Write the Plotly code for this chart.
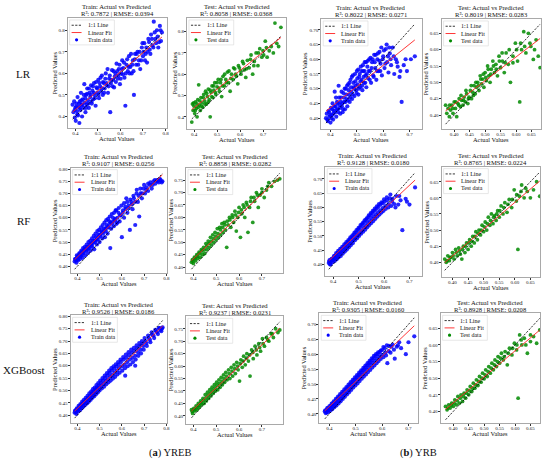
import numpy as np
import plotly.graph_objects as go

# ---------------- data (actual, predicted) ----------------
yreb_lr_train = [(0.388,0.455),(0.392,0.420),(0.395,0.470),(0.398,0.395),(0.400,0.440),(0.402,0.380),(0.405,0.460),(0.408,0.425),(0.410,0.490),(0.412,0.405),
(0.415,0.445),(0.418,0.370),(0.420,0.470),(0.423,0.430),(0.425,0.510),(0.428,0.455),(0.430,0.400),(0.433,0.480),(0.436,0.440),(0.440,0.550),
(0.442,0.465),(0.445,0.420),(0.448,0.500),(0.450,0.455),(0.453,0.530),(0.456,0.475),(0.460,0.440),(0.463,0.510),(0.466,0.490),(0.470,0.545),
(0.473,0.460),(0.476,0.520),(0.480,0.480),(0.483,0.555),(0.486,0.500),(0.490,0.450),(0.494,0.535),(0.498,0.510),(0.502,0.570),(0.505,0.485),
(0.510,0.540),(0.514,0.515),(0.518,0.590),(0.522,0.500),(0.526,0.555),(0.530,0.530),(0.535,0.600),(0.540,0.545),(0.545,0.510),(0.550,0.575),
(0.555,0.420),(0.558,0.555),(0.563,0.615),(0.568,0.570),(0.572,0.535),(0.578,0.600),(0.583,0.645),(0.588,0.575),(0.593,0.620),(0.598,0.550),
(0.603,0.600),(0.608,0.660),(0.613,0.625),(0.618,0.580),(0.622,0.450),(0.627,0.640),(0.633,0.610),(0.638,0.680),(0.644,0.630),(0.650,0.600),
(0.655,0.660),(0.660,0.500),(0.665,0.690),(0.670,0.640),(0.676,0.700),(0.682,0.660),(0.688,0.620),(0.695,0.720),(0.700,0.680),(0.706,0.740),
(0.712,0.690),(0.718,0.650),(0.724,0.760),(0.730,0.710),(0.736,0.780),(0.742,0.730),(0.748,0.840),(0.755,0.760),(0.762,0.800),(0.768,0.720),
(0.775,0.820),(0.780,0.750),(0.784,0.790),
(0.397,0.430),(0.404,0.445),(0.409,0.410),(0.417,0.460),(0.421,0.440),(0.427,0.475),(0.432,0.455),(0.438,0.500),(0.444,0.485),(0.447,0.440),
(0.452,0.505),(0.458,0.460),(0.461,0.530),(0.468,0.500),(0.472,0.470),(0.478,0.540),(0.482,0.510),(0.487,0.485),(0.492,0.560),(0.497,0.530),
(0.503,0.500),(0.508,0.555),(0.512,0.580),(0.517,0.530),(0.523,0.560),(0.528,0.510),(0.533,0.575),(0.538,0.555),(0.543,0.620),(0.548,0.540),
(0.553,0.590),(0.560,0.570),(0.565,0.540),(0.570,0.610),(0.575,0.585),(0.580,0.560),(0.586,0.610),(0.591,0.590),(0.596,0.640),(0.601,0.575),
(0.606,0.620),(0.611,0.595),(0.616,0.650),(0.624,0.600),(0.630,0.665),(0.636,0.630),(0.641,0.600),(0.647,0.690),(0.653,0.640),(0.658,0.610),
(0.664,0.665),(0.672,0.690),(0.679,0.640),(0.685,0.700),(0.692,0.660),(0.698,0.740),(0.703,0.700),(0.709,0.660),(0.715,0.720),(0.721,0.700),
(0.727,0.745),(0.733,0.690),(0.740,0.760),(0.746,0.720),(0.752,0.790),(0.758,0.740),(0.765,0.770),(0.772,0.745),(0.778,0.800)]

yreb_lr_test = [(0.390,0.375),(0.393,0.460),(0.396,0.430),(0.400,0.450),(0.403,0.415),(0.406,0.470),(0.410,0.440),(0.413,0.400),(0.416,0.480),(0.420,0.550),
(0.423,0.455),(0.427,0.430),(0.430,0.490),(0.434,0.465),(0.438,0.445),(0.442,0.505),(0.446,0.475),(0.450,0.520),(0.454,0.460),(0.458,0.495),
(0.462,0.530),(0.466,0.480),(0.470,0.400),(0.474,0.515),(0.478,0.545),(0.482,0.490),(0.486,0.525),(0.490,0.560),(0.495,0.505),(0.500,0.540),
(0.505,0.575),(0.510,0.520),(0.515,0.560),(0.520,0.495),(0.526,0.590),(0.532,0.545),(0.538,0.575),(0.545,0.610),(0.550,0.560),(0.557,0.520),
(0.563,0.600),(0.570,0.575),(0.577,0.625),(0.584,0.590),(0.590,0.555),(0.597,0.630),(0.604,0.600),(0.611,0.660),(0.618,0.620),(0.625,0.585),
(0.632,0.665),(0.640,0.630),(0.648,0.690),(0.655,0.600),(0.662,0.660),(0.670,0.700),(0.678,0.640),(0.686,0.720),(0.695,0.680),(0.703,0.690),
(0.710,0.755),(0.718,0.680),(0.727,0.710),(0.736,0.730),(0.745,0.700),(0.752,0.840),(0.760,0.745),(0.768,0.730),(0.778,0.820),
(0.398,0.465),(0.405,0.430),(0.412,0.460),(0.418,0.445),(0.425,0.475),(0.432,0.450),(0.440,0.490),(0.447,0.460),(0.455,0.510),(0.462,0.470),
(0.470,0.525),(0.477,0.495),(0.485,0.545),(0.492,0.515),(0.500,0.560),(0.508,0.535),(0.517,0.575),(0.524,0.545),(0.533,0.600),(0.541,0.560),
(0.552,0.615),(0.560,0.580),(0.572,0.630),(0.581,0.600),(0.593,0.640),(0.602,0.615),(0.615,0.650),(0.628,0.625),(0.645,0.670),(0.660,0.640),
(0.680,0.700),(0.700,0.710),(0.715,0.725)]

yrb_lr_train = [(0.383,0.400),(0.386,0.415),(0.390,0.390),(0.393,0.425),(0.396,0.405),(0.400,0.385),(0.402,0.435),(0.405,0.410),(0.408,0.450),(0.410,0.395),
(0.413,0.425),(0.416,0.490),(0.419,0.440),(0.422,0.405),(0.425,0.455),(0.428,0.430),(0.431,0.510),(0.434,0.445),(0.437,0.415),(0.440,0.470),
(0.443,0.440),(0.446,0.420),(0.449,0.485),(0.452,0.455),(0.455,0.430),(0.458,0.500),(0.461,0.465),(0.464,0.440),(0.467,0.515),(0.470,0.480),
(0.473,0.455),(0.476,0.530),(0.479,0.490),(0.482,0.465),(0.485,0.545),(0.488,0.505),(0.491,0.475),(0.494,0.525),(0.497,0.495),(0.500,0.560),
(0.503,0.515),(0.506,0.480),(0.509,0.540),(0.512,0.505),(0.515,0.575),(0.518,0.530),(0.521,0.495),(0.524,0.560),(0.527,0.520),(0.530,0.590),
(0.533,0.545),(0.536,0.505),(0.540,0.575),(0.543,0.535),(0.547,0.600),(0.550,0.560),(0.554,0.520),(0.558,0.590),(0.562,0.545),(0.566,0.615),
(0.570,0.570),(0.574,0.530),(0.578,0.600),(0.582,0.560),(0.586,0.625),(0.590,0.585),(0.595,0.545),(0.600,0.610),(0.605,0.570),(0.610,0.635),
(0.615,0.590),(0.620,0.555),(0.625,0.620),(0.630,0.580),(0.636,0.640),(0.642,0.550),(0.648,0.600),(0.655,0.575),(0.662,0.540),(0.670,0.455),
(0.678,0.580),(0.690,0.560),(0.705,0.600),(0.720,0.610),
(0.388,0.395),(0.395,0.420),(0.399,0.410),(0.404,0.400),(0.407,0.430),(0.411,0.415),(0.415,0.440),(0.418,0.420),(0.421,0.470),(0.424,0.430),
(0.427,0.450),(0.430,0.420),(0.433,0.470),(0.436,0.435),(0.439,0.455),(0.442,0.490),(0.445,0.450),(0.448,0.430),(0.451,0.470),(0.454,0.500),
(0.457,0.455),(0.460,0.480),(0.463,0.510),(0.466,0.460),(0.469,0.495),(0.472,0.520),(0.475,0.470),(0.478,0.505),(0.481,0.540),(0.484,0.480),
(0.487,0.520),(0.490,0.500),(0.493,0.550),(0.496,0.510),(0.499,0.485),(0.502,0.535),(0.505,0.565),(0.508,0.500),(0.511,0.550),(0.514,0.525),
(0.517,0.560),(0.520,0.510),(0.523,0.580),(0.526,0.540),(0.529,0.560),(0.532,0.520),(0.535,0.590),(0.538,0.550),(0.542,0.595),(0.545,0.560),
(0.549,0.530),(0.552,0.605),(0.556,0.570),(0.560,0.600),(0.564,0.540),(0.568,0.590),(0.572,0.615),(0.576,0.560),(0.580,0.620),(0.585,0.595),
(0.589,0.560),(0.593,0.640),(0.598,0.600),(0.603,0.630),(0.608,0.585),(0.613,0.650),(0.618,0.610),(0.623,0.640),(0.628,0.600),(0.640,0.610),
(0.652,0.590),(0.665,0.560),(0.685,0.600)]

yrb_lr_test = [(0.372,0.430),(0.376,0.405),(0.380,0.420),(0.384,0.395),(0.388,0.415),(0.392,0.430),(0.396,0.405),(0.400,0.440),(0.404,0.420),(0.408,0.395),
(0.412,0.435),(0.416,0.450),(0.420,0.425),(0.424,0.445),(0.428,0.430),(0.432,0.455),(0.436,0.440),(0.440,0.465),(0.444,0.435),(0.448,0.455),
(0.452,0.475),(0.456,0.450),(0.460,0.470),(0.464,0.490),(0.468,0.465),(0.472,0.485),(0.476,0.500),(0.480,0.475),(0.484,0.520),(0.488,0.495),
(0.492,0.510),(0.496,0.485),(0.500,0.530),(0.504,0.505),(0.508,0.550),(0.512,0.520),(0.516,0.500),(0.520,0.540),(0.525,0.565),(0.530,0.530),
(0.535,0.555),(0.540,0.520),(0.545,0.580),(0.550,0.545),(0.556,0.565),(0.562,0.530),(0.568,0.590),(0.575,0.555),(0.582,0.500),(0.590,0.580),
(0.598,0.620),(0.605,0.565),(0.612,0.440),(0.618,0.600),(0.625,0.655),(0.632,0.590),(0.640,0.650),(0.648,0.610),(0.656,0.570),(0.665,0.630),
(0.672,0.580),(0.678,0.545),
(0.385,0.430),(0.395,0.420),(0.405,0.440),(0.415,0.430),(0.422,0.460),(0.430,0.445),(0.438,0.475),(0.446,0.450),(0.455,0.490),(0.462,0.460),
(0.470,0.500),(0.478,0.490),(0.486,0.510),(0.494,0.525),(0.502,0.515),(0.510,0.540),(0.518,0.525),(0.527,0.550),(0.536,0.540),(0.546,0.565),
(0.555,0.590),(0.565,0.560),(0.578,0.600),(0.590,0.560),(0.602,0.600),(0.615,0.620),(0.628,0.610),(0.645,0.620),(0.660,0.600)]

yreb_rf_train = [(0.388,0.420),(0.392,0.430),(0.396,0.415),(0.400,0.440),(0.404,0.425),(0.408,0.450),(0.412,0.430),(0.416,0.445),(0.420,0.460),(0.424,0.435),
(0.428,0.455),(0.432,0.470),(0.436,0.445),(0.440,0.465),(0.444,0.480),(0.448,0.455),(0.452,0.475),(0.456,0.490),(0.460,0.465),(0.464,0.495),
(0.468,0.480),(0.472,0.505),(0.476,0.470),(0.480,0.500),(0.484,0.520),(0.488,0.490),(0.492,0.510),(0.496,0.530),(0.500,0.500),(0.504,0.525),
(0.508,0.545),(0.512,0.515),(0.516,0.535),(0.520,0.555),(0.524,0.520),(0.528,0.545),(0.532,0.570),(0.536,0.535),(0.540,0.560),(0.544,0.585),
(0.548,0.475),(0.552,0.555),(0.556,0.575),(0.560,0.600),(0.564,0.565),(0.568,0.590),(0.572,0.630),(0.576,0.575),(0.580,0.600),(0.585,0.620),
(0.590,0.585),(0.595,0.610),(0.600,0.520),(0.605,0.630),(0.610,0.600),(0.615,0.645),(0.620,0.680),(0.625,0.620),(0.630,0.650),(0.636,0.550),
(0.642,0.665),(0.648,0.635),(0.654,0.680),(0.660,0.570),(0.666,0.700),(0.672,0.665),(0.678,0.605),(0.684,0.700),(0.690,0.680),(0.697,0.720),
(0.704,0.700),(0.711,0.725),(0.718,0.710),(0.726,0.735),(0.734,0.720),(0.742,0.750),(0.750,0.740),(0.758,0.755),(0.766,0.745),(0.774,0.755),
(0.782,0.750),
(0.390,0.430),(0.394,0.425),(0.398,0.445),(0.402,0.430),(0.406,0.440),(0.410,0.455),(0.414,0.440),(0.418,0.465),(0.422,0.450),(0.426,0.475),
(0.430,0.460),(0.434,0.480),(0.438,0.470),(0.442,0.490),(0.446,0.470),(0.450,0.500),(0.454,0.480),(0.458,0.505),(0.462,0.485),(0.466,0.515),
(0.470,0.495),(0.474,0.525),(0.478,0.505),(0.482,0.535),(0.486,0.510),(0.490,0.545),(0.494,0.520),(0.498,0.550),(0.502,0.530),(0.506,0.560),
(0.510,0.540),(0.514,0.570),(0.518,0.545),(0.522,0.580),(0.526,0.555),(0.530,0.590),(0.534,0.560),(0.538,0.595),(0.542,0.570),(0.546,0.605),
(0.550,0.580),(0.555,0.615),(0.560,0.585),(0.565,0.620),(0.570,0.595),(0.575,0.630),(0.580,0.580),(0.586,0.640),(0.592,0.610),(0.598,0.650),
(0.604,0.620),(0.610,0.660),(0.617,0.635),(0.624,0.665),(0.631,0.640),(0.638,0.675),(0.645,0.655),(0.652,0.690),(0.659,0.665),(0.667,0.715),
(0.675,0.690),(0.683,0.720),(0.691,0.700),(0.700,0.735),(0.709,0.715),(0.718,0.740),(0.728,0.745),(0.738,0.735),(0.748,0.755),(0.760,0.750),
(0.770,0.760),(0.779,0.745)]

yreb_rf_test = [(0.392,0.420),(0.396,0.430),(0.400,0.415),(0.405,0.440),(0.410,0.425),(0.415,0.450),(0.420,0.435),(0.425,0.460),(0.430,0.440),(0.435,0.470),
(0.440,0.450),(0.445,0.480),(0.450,0.455),(0.455,0.495),(0.460,0.470),(0.465,0.505),(0.470,0.480),(0.475,0.520),(0.480,0.490),(0.485,0.530),
(0.490,0.500),(0.495,0.540),(0.500,0.510),(0.505,0.555),(0.510,0.520),(0.515,0.560),(0.520,0.530),(0.525,0.575),(0.530,0.540),(0.535,0.580),
(0.540,0.550),(0.546,0.480),(0.552,0.570),(0.558,0.600),(0.564,0.560),(0.570,0.610),(0.576,0.580),(0.582,0.625),(0.588,0.545),(0.594,0.600),
(0.600,0.640),(0.606,0.520),(0.612,0.615),(0.618,0.650),(0.625,0.600),(0.632,0.660),(0.639,0.540),(0.646,0.640),(0.653,0.680),(0.660,0.580),
(0.668,0.665),(0.676,0.700),(0.684,0.640),(0.692,0.690),(0.700,0.715),(0.710,0.680),(0.720,0.710),(0.730,0.740),(0.742,0.725),(0.755,0.745),
(0.768,0.750),(0.778,0.755),
(0.398,0.425),(0.408,0.435),(0.418,0.445),(0.428,0.455),(0.438,0.465),(0.448,0.470),(0.458,0.485),(0.468,0.495),(0.478,0.505),(0.488,0.515),
(0.498,0.525),(0.508,0.535),(0.518,0.550),(0.528,0.560),(0.538,0.570),(0.548,0.585),(0.560,0.590),(0.572,0.600),(0.585,0.610),(0.598,0.620),
(0.610,0.630),(0.622,0.640),(0.635,0.650),(0.650,0.665),(0.665,0.680),(0.680,0.690),(0.700,0.700),(0.725,0.725)]

yrb_rf_train = [(0.383,0.405),(0.386,0.415),(0.390,0.400),(0.394,0.420),(0.398,0.408),(0.402,0.425),(0.406,0.412),(0.410,0.432),(0.414,0.418),(0.418,0.440),
(0.422,0.425),(0.426,0.445),(0.430,0.430),(0.434,0.455),(0.438,0.438),(0.442,0.462),(0.446,0.445),(0.450,0.470),(0.454,0.452),(0.458,0.478),
(0.462,0.460),(0.466,0.488),(0.470,0.468),(0.474,0.495),(0.478,0.475),(0.482,0.505),(0.486,0.485),(0.490,0.512),(0.494,0.492),(0.498,0.522),
(0.502,0.500),(0.506,0.530),(0.510,0.508),(0.514,0.540),(0.518,0.515),(0.522,0.548),(0.526,0.522),(0.530,0.556),(0.534,0.530),(0.538,0.565),
(0.542,0.538),(0.546,0.572),(0.550,0.545),(0.554,0.580),(0.558,0.552),(0.562,0.588),(0.566,0.560),(0.570,0.595),(0.574,0.568),(0.578,0.602),
(0.582,0.575),(0.586,0.610),(0.590,0.582),(0.594,0.615),(0.598,0.588),(0.602,0.620),(0.607,0.595),(0.612,0.625),(0.617,0.600),(0.622,0.632),
(0.628,0.605),(0.634,0.630),(0.640,0.612),(0.648,0.640),(0.656,0.610),(0.665,0.625),(0.672,0.520),(0.685,0.630),(0.700,0.610),(0.722,0.670),
(0.385,0.410),(0.388,0.400),(0.392,0.412),(0.396,0.418),(0.400,0.415),(0.404,0.430),(0.408,0.420),(0.412,0.440),(0.416,0.428),(0.420,0.448),
(0.424,0.435),(0.428,0.455),(0.432,0.442),(0.436,0.462),(0.440,0.450),(0.444,0.470),(0.448,0.458),(0.452,0.478),(0.456,0.465),(0.460,0.485),
(0.464,0.472),(0.468,0.495),(0.472,0.480),(0.476,0.502),(0.480,0.488),(0.484,0.512),(0.488,0.495),(0.492,0.520),(0.496,0.502),(0.500,0.528),
(0.504,0.510),(0.508,0.538),(0.512,0.518),(0.516,0.545),(0.520,0.528),(0.524,0.555),(0.528,0.535),(0.532,0.562),(0.536,0.545),(0.540,0.572),
(0.544,0.552),(0.548,0.580),(0.552,0.560),(0.556,0.588),(0.560,0.568),(0.564,0.596),(0.568,0.575),(0.572,0.604),(0.576,0.582),(0.580,0.612),
(0.585,0.590),(0.590,0.618),(0.595,0.598),(0.600,0.628),(0.605,0.605),(0.611,0.635),(0.618,0.612),(0.625,0.645),(0.632,0.620),(0.645,0.600),
(0.660,0.640),(0.690,0.620)]

yrb_rf_test = [(0.375,0.410),(0.380,0.400),(0.385,0.420),(0.390,0.405),(0.395,0.415),(0.400,0.430),(0.405,0.410),(0.410,0.440),(0.415,0.420),(0.420,0.445),
(0.425,0.425),(0.430,0.410),(0.435,0.450),(0.440,0.430),(0.445,0.460),(0.450,0.440),(0.455,0.470),(0.460,0.450),(0.465,0.480),(0.470,0.460),
(0.475,0.495),(0.480,0.470),(0.485,0.500),(0.490,0.485),(0.495,0.515),(0.500,0.495),(0.505,0.525),(0.510,0.500),(0.515,0.540),(0.520,0.515),
(0.525,0.550),(0.530,0.520),(0.535,0.545),(0.540,0.530),(0.545,0.560),(0.550,0.540),(0.556,0.575),(0.562,0.550),(0.568,0.585),(0.575,0.555),
(0.582,0.595),(0.590,0.570),(0.598,0.625),(0.605,0.590),(0.610,0.440),(0.615,0.605),(0.622,0.640),(0.630,0.600),(0.640,0.620),(0.650,0.600),
(0.660,0.625),(0.670,0.650),(0.680,0.605),
(0.383,0.405),(0.392,0.415),(0.402,0.420),(0.412,0.430),(0.422,0.435),(0.432,0.440),(0.442,0.450),(0.452,0.460),(0.462,0.465),(0.472,0.480),
(0.482,0.490),(0.492,0.500),(0.502,0.510),(0.512,0.520),(0.522,0.530),(0.532,0.540),(0.542,0.550),(0.552,0.560),(0.565,0.570),(0.578,0.580),
(0.592,0.595),(0.606,0.610),(0.620,0.620),(0.635,0.630)]

yreb_xgb_train = [(0.388,0.410),(0.392,0.420),(0.396,0.405),(0.400,0.425),(0.404,0.415),(0.408,0.432),(0.412,0.420),(0.416,0.440),(0.420,0.428),(0.424,0.448),
(0.428,0.435),(0.432,0.455),(0.436,0.442),(0.440,0.462),(0.444,0.448),(0.448,0.470),(0.452,0.455),(0.456,0.478),(0.460,0.462),(0.464,0.487),
(0.468,0.470),(0.472,0.495),(0.476,0.477),(0.480,0.503),(0.484,0.485),(0.488,0.512),(0.492,0.492),(0.496,0.520),(0.500,0.500),(0.505,0.530),
(0.510,0.508),(0.515,0.540),(0.520,0.515),(0.525,0.550),(0.530,0.525),(0.535,0.560),(0.540,0.533),(0.545,0.570),(0.550,0.540),(0.555,0.580),
(0.560,0.548),(0.565,0.588),(0.570,0.555),(0.575,0.597),(0.580,0.565),(0.585,0.605),(0.590,0.572),(0.596,0.615),(0.602,0.580),(0.608,0.625),
(0.614,0.590),(0.615,0.560),(0.620,0.632),(0.626,0.598),(0.632,0.642),(0.638,0.605),(0.644,0.652),(0.650,0.615),(0.656,0.660),(0.660,0.600),
(0.662,0.625),(0.668,0.670),(0.674,0.640),(0.680,0.680),(0.686,0.650),(0.692,0.690),(0.698,0.665),(0.705,0.700),(0.712,0.680),(0.720,0.712),
(0.728,0.695),(0.736,0.725),(0.745,0.712),(0.754,0.740),(0.762,0.728),(0.770,0.752),(0.777,0.740),(0.783,0.755),
(0.390,0.418),(0.394,0.412),(0.398,0.428),(0.402,0.420),(0.406,0.438),(0.410,0.428),(0.414,0.445),(0.418,0.435),(0.422,0.455),(0.426,0.442),
(0.430,0.462),(0.434,0.450),(0.438,0.470),(0.442,0.455),(0.446,0.478),(0.450,0.465),(0.454,0.488),(0.458,0.470),(0.462,0.495),(0.466,0.480),
(0.470,0.505),(0.474,0.488),(0.478,0.512),(0.482,0.495),(0.486,0.522),(0.490,0.505),(0.494,0.530),(0.498,0.512),(0.503,0.540),(0.508,0.520),
(0.513,0.550),(0.518,0.528),(0.523,0.560),(0.528,0.538),(0.533,0.570),(0.538,0.545),(0.543,0.580),(0.548,0.555),(0.553,0.590),(0.558,0.562),
(0.563,0.598),(0.568,0.572),(0.573,0.606),(0.578,0.580),(0.583,0.615),(0.588,0.590),(0.594,0.625),(0.600,0.598),(0.606,0.635),(0.612,0.605),
(0.618,0.645),(0.624,0.615),(0.630,0.655),(0.636,0.625),(0.642,0.665),(0.648,0.632),(0.654,0.672),(0.660,0.640),(0.666,0.682),(0.672,0.655),
(0.678,0.692),(0.684,0.665),(0.690,0.700),(0.696,0.680),(0.702,0.712),(0.710,0.692),(0.718,0.722),(0.726,0.705),(0.734,0.735),(0.742,0.722),
(0.750,0.745),(0.758,0.735),(0.766,0.752),(0.774,0.745),(0.780,0.750)]

yreb_xgb_test = [(0.392,0.425),(0.397,0.410),(0.402,0.430),(0.407,0.420),(0.412,0.440),(0.417,0.425),(0.422,0.450),(0.427,0.435),(0.432,0.460),(0.437,0.445),
(0.442,0.470),(0.447,0.450),(0.452,0.485),(0.457,0.460),(0.462,0.495),(0.467,0.470),(0.472,0.505),(0.477,0.480),(0.482,0.515),(0.487,0.490),
(0.492,0.525),(0.497,0.500),(0.502,0.535),(0.507,0.505),(0.512,0.545),(0.517,0.515),(0.522,0.555),(0.527,0.525),(0.532,0.565),(0.537,0.535),
(0.542,0.575),(0.548,0.545),(0.554,0.585),(0.560,0.550),(0.566,0.595),(0.572,0.560),(0.578,0.605),(0.584,0.570),(0.590,0.615),(0.596,0.585),
(0.602,0.540),(0.608,0.625),(0.614,0.595),(0.620,0.640),(0.627,0.605),(0.634,0.650),(0.641,0.620),(0.648,0.560),(0.655,0.665),(0.662,0.630),
(0.670,0.680),(0.678,0.645),(0.686,0.690),(0.694,0.660),(0.702,0.710),(0.711,0.680),(0.720,0.715),(0.730,0.700),(0.740,0.730),(0.750,0.715),
(0.760,0.750),(0.770,0.735),(0.778,0.745),
(0.395,0.418),(0.405,0.425),(0.415,0.433),(0.425,0.442),(0.435,0.452),(0.445,0.462),(0.455,0.472),(0.465,0.482),(0.475,0.492),(0.485,0.502),
(0.495,0.512),(0.505,0.522),(0.515,0.530),(0.525,0.540),(0.535,0.550),(0.545,0.560),(0.557,0.570),(0.569,0.580),(0.581,0.590),(0.593,0.600),
(0.605,0.610),(0.618,0.620),(0.632,0.632),(0.646,0.645),(0.660,0.655),(0.675,0.665),(0.690,0.675),(0.705,0.690),(0.725,0.705),(0.745,0.730)]

yrb_xgb_train = [(0.383,0.408),(0.387,0.402),(0.391,0.415),(0.395,0.405),(0.399,0.420),(0.403,0.410),(0.407,0.428),(0.411,0.415),(0.415,0.435),(0.419,0.422),
(0.423,0.442),(0.427,0.428),(0.431,0.450),(0.435,0.435),(0.439,0.458),(0.443,0.442),(0.447,0.466),(0.451,0.450),(0.455,0.474),(0.459,0.457),
(0.463,0.482),(0.467,0.465),(0.471,0.490),(0.475,0.472),(0.479,0.498),(0.483,0.480),(0.487,0.506),(0.491,0.488),(0.495,0.514),(0.499,0.495),
(0.503,0.522),(0.507,0.502),(0.511,0.530),(0.515,0.510),(0.519,0.538),(0.523,0.518),(0.527,0.546),(0.531,0.525),(0.535,0.554),(0.539,0.532),
(0.543,0.562),(0.547,0.540),(0.551,0.570),(0.555,0.547),(0.559,0.578),(0.563,0.555),(0.567,0.586),(0.571,0.562),(0.575,0.594),(0.579,0.570),
(0.583,0.600),(0.587,0.577),(0.591,0.607),(0.595,0.584),(0.600,0.614),(0.605,0.590),(0.610,0.620),(0.615,0.596),(0.620,0.570),(0.626,0.628),
(0.632,0.605),(0.640,0.632),(0.648,0.585),(0.656,0.625),(0.665,0.640),(0.672,0.620),(0.690,0.600),(0.722,0.660),
(0.385,0.412),(0.389,0.406),(0.393,0.420),(0.397,0.412),(0.401,0.426),(0.405,0.418),(0.409,0.434),(0.413,0.424),(0.417,0.442),(0.421,0.430),
(0.425,0.450),(0.429,0.438),(0.433,0.458),(0.437,0.445),(0.441,0.466),(0.445,0.452),(0.449,0.474),(0.453,0.460),(0.457,0.482),(0.461,0.468),
(0.465,0.490),(0.469,0.476),(0.473,0.498),(0.477,0.484),(0.481,0.506),(0.485,0.492),(0.489,0.514),(0.493,0.500),(0.497,0.522),(0.501,0.508),
(0.505,0.530),(0.509,0.516),(0.513,0.538),(0.517,0.524),(0.521,0.546),(0.525,0.532),(0.529,0.554),(0.533,0.540),(0.537,0.562),(0.541,0.548),
(0.545,0.570),(0.549,0.556),(0.553,0.578),(0.557,0.564),(0.561,0.586),(0.565,0.571),(0.569,0.594),(0.573,0.578),(0.577,0.600),(0.581,0.585),
(0.585,0.606),(0.590,0.592),(0.595,0.612),(0.600,0.598),(0.605,0.624),(0.612,0.605),(0.618,0.630),(0.625,0.610),(0.635,0.625),(0.645,0.615),
(0.660,0.630),(0.700,0.640)]

yrb_xgb_test = [(0.375,0.415),(0.380,0.405),(0.385,0.420),(0.390,0.410),(0.395,0.425),(0.400,0.415),(0.405,0.435),(0.410,0.420),(0.415,0.445),(0.420,0.425),
(0.425,0.450),(0.430,0.430),(0.435,0.455),(0.440,0.440),(0.445,0.465),(0.450,0.450),(0.455,0.475),(0.460,0.460),(0.465,0.485),(0.470,0.470),
(0.475,0.495),(0.480,0.478),(0.485,0.505),(0.490,0.488),(0.495,0.515),(0.500,0.498),(0.505,0.525),(0.510,0.505),(0.515,0.535),(0.520,0.515),
(0.525,0.545),(0.530,0.525),(0.535,0.555),(0.540,0.535),(0.545,0.565),(0.550,0.545),(0.556,0.575),(0.562,0.555),(0.568,0.580),(0.575,0.540),
(0.582,0.590),(0.590,0.570),(0.598,0.605),(0.605,0.585),(0.610,0.440),(0.615,0.630),(0.622,0.600),(0.630,0.620),(0.640,0.575),(0.650,0.610),
(0.660,0.625),(0.670,0.605),(0.680,0.645),
(0.383,0.410),(0.393,0.418),(0.403,0.425),(0.413,0.432),(0.423,0.440),(0.433,0.445),(0.443,0.455),(0.453,0.462),(0.463,0.470),(0.473,0.480),
(0.483,0.490),(0.493,0.500),(0.503,0.510),(0.513,0.520),(0.523,0.530),(0.533,0.540),(0.543,0.550),(0.553,0.560),(0.565,0.565),(0.578,0.575),
(0.592,0.590),(0.606,0.600),(0.620,0.615),(0.635,0.600),(0.650,0.630)]

model_labels = ["LR", "RF", "XGBoost"]
group_labels = ["(<b>a</b>) YREB", "(<b>b</b>) YRB"]
r2_values = ["0.7872", "0.8058", "0.8022", "0.8019",
             "0.9107", "0.8858", "0.9128", "0.8765",
             "0.9526", "0.9237", "0.9305", "0.8928"]
rmse_values = ["0.0394", "0.0368", "0.0271", "0.0283",
               "0.0256", "0.0282", "0.0180", "0.0224",
               "0.0186", "0.0231", "0.0160", "0.0208"]
x_ticks_yreb_train = [0.4, 0.5, 0.6, 0.7, 0.8]
x_ticks_yreb_test = [0.4, 0.5, 0.6, 0.7]
y_ticks_yreb_lr = [0.4, 0.5, 0.6, 0.7, 0.8]
y_ticks_yreb_train = [0.40, 0.45, 0.50, 0.55, 0.60, 0.65, 0.70, 0.75, 0.80]
y_ticks_yreb_test = [0.40, 0.45, 0.50, 0.55, 0.60, 0.65, 0.70, 0.75]
x_ticks_yrb_train = [0.4, 0.5, 0.6, 0.7]
y_ticks_yrb_train = [0.40, 0.45, 0.50, 0.55, 0.60, 0.65, 0.70]
ticks_yrb_test = [0.40, 0.45, 0.50, 0.55, 0.60, 0.65]

# ---------------- layout of panels (pixel boxes) ----------------
W, H = 550, 462
FONT = "Liberation Serif"
BLUE, GREEN = "#0000ff", "#008a00"

def px(x):
    return x / W

def py(y):
    return 1 - y / H

panels = [
    dict(d=yreb_lr_train, box=(68, 168, 17, 127), xr=(0.366, 0.807), yr=(0.348, 0.857), xt=x_ticks_yreb_train, xf=".1f", yt=y_ticks_yreb_lr, yf=".1f", train=True),
    dict(d=yreb_lr_test, box=(188, 288, 17, 128), xr=(0.369, 0.802), yr=(0.344, 0.864), xt=x_ticks_yreb_test, xf=".1f", yt=y_ticks_yreb_lr, yf=".1f", train=False),
    dict(d=yrb_lr_train, box=(323, 424, 18, 128), xr=(0.365, 0.746), yr=(0.364, 0.737), xt=x_ticks_yrb_train, xf=".1f", yt=y_ticks_yrb_train, yf=".2f", train=True),
    dict(d=yrb_lr_test, box=(444, 544, 18, 128), xr=(0.359, 0.681), yr=(0.358, 0.694), xt=ticks_yrb_test, xf=".2f", yt=ticks_yrb_test, yf=".2f", train=False),
    dict(d=yreb_rf_train, box=(71, 168, 167, 273), xr=(0.370, 0.803), yr=(0.371, 0.806), xt=x_ticks_yreb_train, xf=".1f", yt=y_ticks_yreb_train, yf=".2f", train=True),
    dict(d=yreb_rf_test, box=(187, 285, 167, 273), xr=(0.368, 0.794), yr=(0.375, 0.800), xt=x_ticks_yreb_test, xf=".1f", yt=y_ticks_yreb_test, yf=".2f", train=False),
    dict(d=yrb_rf_train, box=(327, 424, 166, 276), xr=(0.369, 0.748), yr=(0.358, 0.743), xt=x_ticks_yrb_train, xf=".1f", yt=y_ticks_yrb_train, yf=".2f", train=True),
    dict(d=yrb_rf_test, box=(444, 543, 166, 277), xr=(0.365, 0.681), yr=(0.353, 0.697), xt=ticks_yrb_test, xf=".2f", yt=ticks_yrb_test, yf=".2f", train=False),
    dict(d=yreb_xgb_train, box=(71, 168, 315, 423), xr=(0.370, 0.803), yr=(0.368, 0.804), xt=x_ticks_yreb_train, xf=".1f", yt=y_ticks_yreb_train, yf=".2f", train=True),
    dict(d=yreb_xgb_test, box=(187, 285, 316, 424), xr=(0.368, 0.794), yr=(0.367, 0.800), xt=x_ticks_yreb_test, xf=".1f", yt=y_ticks_yreb_test, yf=".2f", train=False),
    dict(d=yrb_xgb_train, box=(321, 420, 313, 423), xr=(0.362, 0.735), yr=(0.369, 0.737), xt=x_ticks_yrb_train, xf=".1f", yt=y_ticks_yrb_train, yf=".2f", train=True),
    dict(d=yrb_xgb_test, box=(443, 543, 313, 423), xr=(0.359, 0.681), yr=(0.365, 0.695), xt=ticks_yrb_test, xf=".2f", yt=ticks_yrb_test, yf=".2f", train=False),
]

fig = go.Figure()
shapes, annotations = [], []
DASH = "2.2px,1.4px"

for i, p in enumerate(panels, start=1):
    sfx = "" if i == 1 else str(i)
    xa, ya = "x" + sfx, "y" + sfx
    act = np.array([a for a, _ in p["d"]])
    pred = np.array([b for _, b in p["d"]])
    color = BLUE if p["train"] else GREEN
    fig.add_trace(go.Scatter(x=act, y=pred, mode="markers", xaxis=xa, yaxis=ya, showlegend=False,
                             marker=dict(color=color, size=4.2 if p["train"] else 3.8, opacity=0.85, line=dict(width=0)),
                             hoverinfo="skip"))
    lo, hi = act.min(), act.max()
    fig.add_trace(go.Scatter(x=[lo, hi], y=[lo, hi], mode="lines", xaxis=xa, yaxis=ya, showlegend=False,
                             line=dict(color="black", width=0.8, dash=DASH), hoverinfo="skip"))
    k, b = np.polyfit(act, pred, 1)
    fig.add_trace(go.Scatter(x=[lo, hi], y=[k * lo + b, k * hi + b], mode="lines", xaxis=xa, yaxis=ya,
                             showlegend=False, line=dict(color="#ff2020", width=0.9), hoverinfo="skip"))

    x0, x1, y0, y1 = p["box"]
    axcommon = dict(showline=True, mirror=True, linecolor="#a9a9a9", linewidth=1, showgrid=False,
                    zeroline=False, ticks="outside", ticklen=2, tickwidth=0.7, tickcolor="#333",
                    tickfont=dict(family=FONT, size=5, color="#222"), fixedrange=True)
    fig.layout["xaxis" + sfx] = dict(axcommon, domain=[px(x0), px(x1)], range=list(p["xr"]), anchor=ya,
                                     tickvals=p["xt"], tickformat=p["xf"], ticklabelstandoff=-2)
    fig.layout["yaxis" + sfx] = dict(axcommon, domain=[py(y1), py(y0)], range=list(p["yr"]), anchor=xa,
                                     tickvals=p["yt"], tickformat=p["yf"], ticklabelstandoff=-1)

    cx = (x0 + x1) / 2
    kind = "Train" if p["train"] else "Test"
    annotations.append(dict(x=px(cx), y=py(y0 - 11), xref="paper", yref="paper", showarrow=False,
                            text=f"{kind}: Actual vs Predicted", font=dict(family=FONT, size=6.6, color="#111"),
                            xanchor="center", yanchor="middle"))
    annotations.append(dict(x=px(cx), y=py(y0 - 4), xref="paper", yref="paper", showarrow=False,
                            text=f"R²: {r2_values[i-1]} | RMSE: {rmse_values[i-1]}",
                            font=dict(family=FONT, size=6.6, color="#111"), xanchor="center", yanchor="middle"))
    annotations.append(dict(x=px(cx), y=py(y1 + 10.5), xref="paper", yref="paper", showarrow=False,
                            text="Actual Values", font=dict(family=FONT, size=6.4, color="#111"),
                            xanchor="center", yanchor="middle"))
    yoff = 13 if p["yf"] == ".1f" else 16
    annotations.append(dict(x=px(x0 - yoff), y=py((y0 + y1) / 2), xref="paper", yref="paper", showarrow=False,
                            text="Predicted Values", textangle=-90, font=dict(family=FONT, size=6.4, color="#111"),
                            xanchor="center", yanchor="middle"))

    # legend box (drawn as decoration)
    shapes.append(dict(type="rect", xref="paper", yref="paper", x0=px(x0 + 2), x1=px(x0 + 47),
                       y0=py(y0 + 2), y1=py(y0 + 27), fillcolor="rgba(255,255,255,0.8)",
                       line=dict(color="#d6d6d6", width=0.6)))
    rows = [y0 + 7.3, y0 + 14.6, y0 + 21.9]
    shapes.append(dict(type="line", xref="paper", yref="paper", x0=px(x0 + 4), x1=px(x0 + 14),
                       y0=py(rows[0]), y1=py(rows[0]), line=dict(color="black", width=0.8, dash=DASH)))
    shapes.append(dict(type="line", xref="paper", yref="paper", x0=px(x0 + 4), x1=px(x0 + 14),
                       y0=py(rows[1]), y1=py(rows[1]), line=dict(color="#ff2020", width=0.9)))
    shapes.append(dict(type="circle", xref="paper", yref="paper", x0=px(x0 + 7.4), x1=px(x0 + 10.6),
                       y0=py(rows[2] - 1.6), y1=py(rows[2] + 1.6), fillcolor=color, line=dict(width=0)))
    for r, t in zip(rows, ["1:1 Line", "Linear Fit", f"{kind} data"]):
        annotations.append(dict(x=px(x0 + 18), y=py(r), xref="paper", yref="paper", showarrow=False,
                                text=t, font=dict(family=FONT, size=6, color="#111"),
                                xanchor="left", yanchor="middle"))

for lbl, yc in zip(model_labels, [73, 220, 370]):
    annotations.append(dict(x=px(24), y=py(yc), xref="paper", yref="paper", showarrow=False, text=lbl,
                            font=dict(family=FONT, size=11, color="#111"), xanchor="center", yanchor="middle"))
for lbl, xc in zip(group_labels, [171, 421]):
    annotations.append(dict(x=px(xc), y=py(453), xref="paper", yref="paper", showarrow=False, text=lbl,
                            font=dict(family=FONT, size=10.5, color="#111"), xanchor="center", yanchor="middle"))

fig.update_layout(width=W, height=H, margin=dict(l=0, r=0, t=0, b=0), paper_bgcolor="white",
                  plot_bgcolor="white", shapes=shapes, annotations=annotations, showlegend=False)
fig.write_html("out.html", config={"displayModeBar": False},
               post_script="document.documentElement.style.margin='0';document.body.style.margin='0';document.body.style.padding='0';document.body.style.overflow='hidden';")
